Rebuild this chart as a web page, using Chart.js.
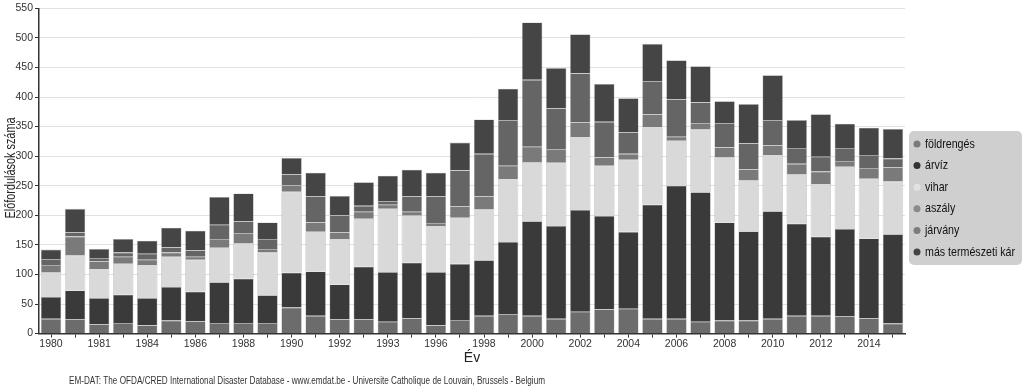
<!DOCTYPE html>
<html>
<head>
<meta charset="utf-8">
<script src="https://cdn.jsdelivr.net/npm/chart.js@4"></script>
<style>
  html, body { margin: 0; padding: 0; background: #fff; }
  canvas { display: block; }
</style>
</head>
<body>
<canvas id="chart" width="1024" height="390"></canvas>
<script>
var years = [1980, 1981, 1982, 1983, 1984, 1985, 1986, 1987, 1988, 1989,
  1990, 1991, 1992, 1993, 1994, 1995, 1996, 1997, 1998, 1999,
  2000, 2001, 2002, 2003, 2004, 2005, 2006, 2007, 2008, 2009,
  2010, 2011, 2012, 2013, 2014, 2015];

// the tick labels as printed under the bars (every second bar)
var tickLabels = ['1980', '', '1981', '', '1984', '', '1986', '', '1988', '',
  '1990', '', '1992', '', '1993', '', '1996', '', '1998', '',
  '2000', '', '2002', '', '2004', '', '2006', '', '2008', '',
  '2010', '', '2012', '', '2014', ''];

var foldrenges = [25, 24, 16, 18, 14, 22, 21, 18, 18, 18,
  44, 30, 24, 24, 20, 26, 14, 23, 30, 33,
  30, 25, 37, 41, 42, 25, 25, 20, 22, 22,
  25, 30, 30, 29, 26, 17];
var arviz = [37, 49, 44, 48, 46, 57, 50, 69, 75, 47,
  59, 75, 59, 89, 84, 94, 90, 95, 94, 122,
  160, 157, 172, 158, 130, 193, 225, 219, 166, 151,
  182, 156, 134, 148, 135, 151];
var vihar = [42, 59, 49, 52, 56, 51, 54, 58, 60, 72,
  137, 67, 77, 81, 107, 80, 78, 78, 86, 106,
  100, 107, 123, 85, 122, 131, 76, 106, 110, 86,
  95, 83, 89, 105, 101, 89];
var aszaly = [12, 32, 13, 12, 9, 7, 5, 15, 17, 6,
  11, 16, 11, 12, 7, 6, 5, 19, 22, 23,
  26, 23, 25, 14, 10, 22, 7, 11, 17, 19,
  16, 18, 21, 10, 18, 24];
var jarvany = [10, 7, 6, 7, 10, 9, 11, 24, 20, 17,
  18, 44, 29, 10, 6, 26, 45, 61, 72, 77,
  113, 69, 83, 60, 36, 56, 63, 35, 41, 44,
  43, 27, 25, 22, 22, 15];
var masKar = [16, 40, 15, 23, 22, 33, 33, 47, 47, 28,
  28, 40, 33, 40, 43, 45, 40, 47, 58, 53,
  97, 68, 66, 64, 58, 63, 66, 61, 37, 66,
  76, 47, 72, 41, 46, 50];

var font = "'Liberation Sans', Arial, sans-serif";

//Leyenda a la derecha con fondo gris
var legendBox = {
  id: 'legendBox',
  afterDraw: function (chart) {
    var ctx = chart.ctx;
    var x = 909, y = 131, w = 113, h = 134;
    ctx.save();
    ctx.fillStyle = '#cfcfcf';
    ctx.beginPath();
    ctx.roundRect(x, y, w, h, 5);
    ctx.fill();
    ctx.font = '13px ' + font;
    ctx.textBaseline = 'middle';
    chart.data.datasets.forEach(function (ds, i) {
      var cy = y + 13 + i * 21.6;
      ctx.fillStyle = ds.dotColor;
      ctx.beginPath();
      ctx.arc(917, cy, 3.5, 0, Math.PI * 2);
      ctx.fill();
      ctx.fillStyle = '#111';
      var tw = ctx.measureText(ds.label).width * 0.82;
      ctx.fillText(ds.label, 925, cy, tw);
    });
    ctx.restore();
  }
};

//Título del eje y + pie de página (texto estrecho)
var textos = {
  id: 'textos',
  afterDraw: function (chart) {
    var ctx = chart.ctx;
    ctx.save();
    ctx.fillStyle = '#222';
    ctx.textAlign = 'center';
    ctx.textBaseline = 'middle';
    ctx.font = '14px ' + font;
    ctx.translate(11, 168);
    ctx.rotate(-Math.PI / 2);
    ctx.fillText('Előfordulások száma', 0, 0, 101);
    ctx.restore();

    ctx.save();
    ctx.font = '10.5px ' + font;
    ctx.fillStyle = '#333';
    ctx.textAlign = 'center';
    ctx.textBaseline = 'middle';
    ctx.fillText('EM-DAT: The OFDA/CRED International Disaster Database - www.emdat.be - Universite Catholique de Louvain, Brussels - Belgium', 307, 381, 476);
    ctx.restore();
  }
};

function serie(label, data, color, dot) {
  return {
    label: label,
    data: data,
    backgroundColor: color,
    borderColor: 'rgba(40,40,40,0.35)',
    borderWidth: 0.6,
    dotColor: dot
  };
}

new Chart(document.getElementById('chart'), {
  type: 'bar',
  data: {
    labels: years,
    datasets: [
      serie('földrengés', foldrenges, '#6c6c6c', '#7a7a7a'),
      serie('árvíz', arviz, '#3a3a3a', '#333333'),
      serie('vihar', vihar, '#d9d9d9', '#e2e2e2'),
      serie('aszály', aszaly, '#7a7a7a', '#8a8a8a'),
      serie('járvány', jarvany, '#656565', '#7c7c7c'),
      serie('más természeti kár', masKar, '#454545', '#444444')
    ]
  },
  options: {
    responsive: false,
    animation: false,
    devicePixelRatio: 1,
    barPercentage: 0.85,
    categoryPercentage: 1,
    layout: { padding: { left: 4, right: 119, top: 4, bottom: 23 } },
    plugins: {
      legend: { display: false },
      tooltip: { enabled: false }
    },
    scales: {
      x: {
        stacked: true,
        grid: { display: true, drawOnChartArea: false, offset: false, tickLength: 4, color: '#333' },
        border: { color: '#333', width: 1.5 },
        ticks: {
          autoSkip: false,
          maxRotation: 0,
          padding: 0,
          color: '#333',
          font: { family: font, size: 10.5 },
          callback: function (val, i) { return tickLabels[i]; }
        },
        title: { display: true, text: 'Év', color: '#222', font: { family: font, size: 14 }, padding: 0 }
      },
      y: {
        stacked: true,
        min: 0,
        max: 550,
        grid: { color: '#e2e2e2', tickLength: 4, tickColor: '#333' },
        border: { color: '#333', width: 1.5 },
        ticks: {
          stepSize: 50,
          padding: 2,
          color: '#333',
          font: { family: font, size: 10.5 }
        },
        afterFit: function (scale) { scale.width = 35; }
      }
    }
  },
  plugins: [legendBox, textos]
});
</script>
</body>
</html>
